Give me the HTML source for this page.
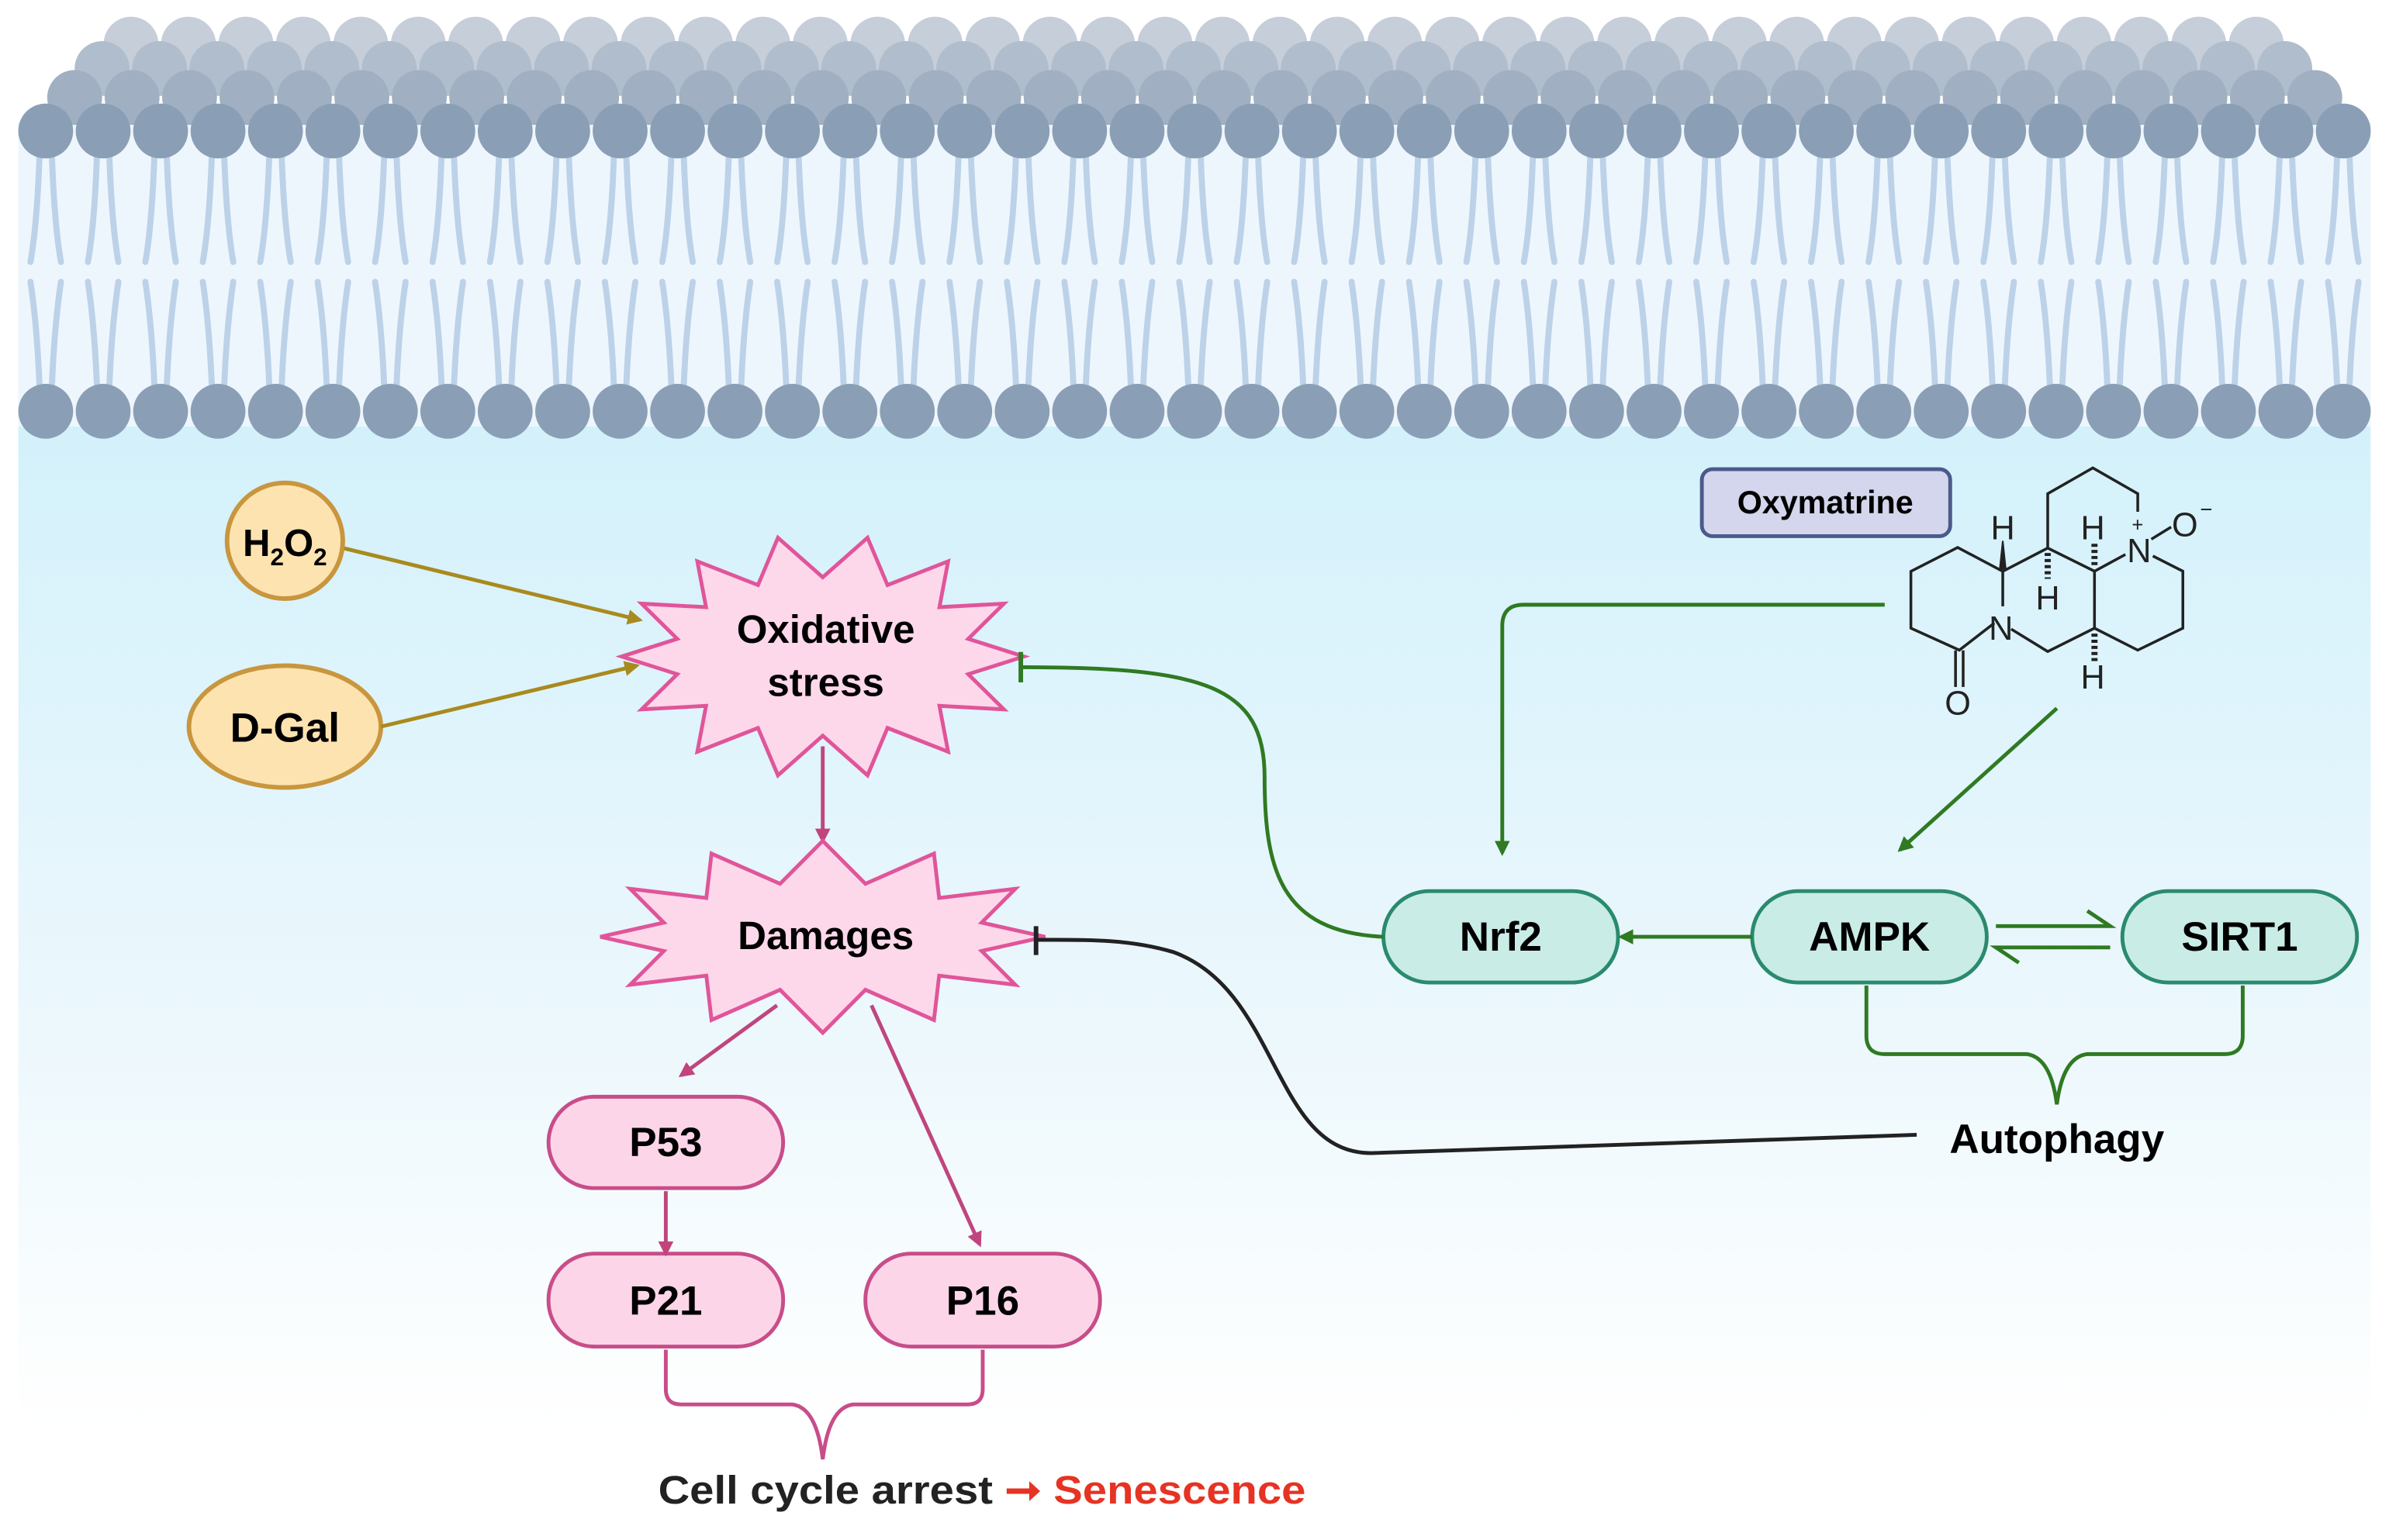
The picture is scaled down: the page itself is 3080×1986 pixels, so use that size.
<!DOCTYPE html>
<html><head><meta charset="utf-8">
<style>
html,body{margin:0;padding:0;background:#fff;}
svg{display:block;}
text{font-family:"Liberation Sans",sans-serif;font-weight:bold;}
</style></head>
<body>
<svg id="s" width="3080" height="1986" viewBox="0 0 1568 1011" preserveAspectRatio="none" xmlns="http://www.w3.org/2000/svg">
<defs>
<linearGradient id="bg" x1="0" y1="0" x2="0" y2="1">
<stop offset="0" stop-color="#d3f1fb"/>
<stop offset="0.55" stop-color="#eaf7fc"/>
<stop offset="1" stop-color="#ffffff"/>
</linearGradient>
<marker id="ag" markerWidth="10" markerHeight="10" refX="8" refY="5" orient="auto" markerUnits="userSpaceOnUse"><path d="M0,0 L10,5 L0,10 z" fill="#2f7a22"/></marker>
<marker id="ay" markerWidth="10" markerHeight="10" refX="8" refY="5" orient="auto" markerUnits="userSpaceOnUse"><path d="M0,0 L10,5 L0,10 z" fill="#a88a1e"/></marker>
<marker id="ap" markerWidth="10" markerHeight="10" refX="8" refY="5" orient="auto" markerUnits="userSpaceOnUse"><path d="M0,0 L10,5 L0,10 z" fill="#c0457e"/></marker>
</defs>
<rect x="12" y="80" width="1544" height="200" fill="#eef6fd"/>
<rect x="12" y="280" width="1544" height="660" fill="url(#bg)"/>
<g id="mem"></g>

<ellipse cx="187" cy="355" rx="38" ry="38" fill="#fde3b0" stroke="#c8963e" stroke-width="3"/>
<text x="187" y="365" font-size="25" text-anchor="middle">H<tspan font-size="16" dy="6">2</tspan><tspan dy="-6">O</tspan><tspan font-size="16" dy="6">2</tspan></text>
<ellipse cx="187" cy="477" rx="63" ry="40" fill="#fde3b0" stroke="#c8963e" stroke-width="3"/>
<text x="187" y="487" font-size="27" text-anchor="middle">D-Gal</text>
<line x1="226" y1="360" x2="420" y2="407" stroke="#a88a1e" stroke-width="2.5" marker-end="url(#ay)"/>
<line x1="250" y1="477" x2="418" y2="437" stroke="#a88a1e" stroke-width="2.5" marker-end="url(#ay)"/>

<polygon id="st1" fill="#fdd8ea" stroke="#e0559a" stroke-width="2.5"/>
<text x="542" y="422" font-size="26" text-anchor="middle">Oxidative</text>
<text x="542" y="457" font-size="26" text-anchor="middle">stress</text>
<line x1="540" y1="490" x2="540" y2="552" stroke="#c0457e" stroke-width="2.5" marker-end="url(#ap)"/>
<polygon id="st2" fill="#fdd8ea" stroke="#e0559a" stroke-width="2.5"/>
<text x="542" y="623" font-size="26" text-anchor="middle">Damages</text>
<line x1="510" y1="660" x2="447" y2="706" stroke="#c0457e" stroke-width="2.5" marker-end="url(#ap)"/>
<line x1="572" y1="660" x2="643" y2="817" stroke="#c0457e" stroke-width="2.5" marker-end="url(#ap)"/>

<g fill="#fcd6e8" stroke="#c84d8a" stroke-width="2.5">
<rect x="360" y="720" width="154" height="60" rx="30"/>
<rect x="360" y="823" width="154" height="61" rx="30"/>
<rect x="568" y="823" width="154" height="61" rx="30"/>
</g>
<text x="437" y="759" font-size="27" text-anchor="middle">P53</text>
<text x="437" y="863" font-size="27" text-anchor="middle">P21</text>
<text x="645" y="863" font-size="27" text-anchor="middle">P16</text>
<line x1="437" y1="782" x2="437" y2="823" stroke="#c0457e" stroke-width="2.5" marker-end="url(#ap)"/>
<path d="M437,886 L437,912 Q437,922 447,922 L520,922 Q536,924 540,958 Q544,924 560,922 L635,922 Q645,922 645,912 L645,886" fill="none" stroke="#c84d8a" stroke-width="2.5"/>
<text x="432" y="987" font-size="26" fill="#222" textLength="425" lengthAdjust="spacingAndGlyphs">Cell cycle arrest <tspan fill="#e63323">➞ Senescence</tspan></text>

<g fill="#c9ece6" stroke="#2a8a6e" stroke-width="2.5">
<rect x="908" y="585" width="154" height="60" rx="30"/>
<rect x="1150" y="585" width="154" height="60" rx="30"/>
<rect x="1393" y="585" width="154" height="60" rx="30"/>
</g>
<text x="985" y="624" font-size="27" text-anchor="middle">Nrf2</text>
<text x="1227" y="624" font-size="27" text-anchor="middle">AMPK</text>
<text x="1470" y="624" font-size="27" text-anchor="middle">SIRT1</text>
<line x1="1150" y1="615" x2="1064" y2="615" stroke="#2f7a22" stroke-width="2.5" marker-end="url(#ag)"/>
<path d="M1310,608 L1385,608 L1370,598" fill="none" stroke="#2f7a22" stroke-width="2.5"/>
<path d="M1385,622 L1310,622 L1325,632" fill="none" stroke="#2f7a22" stroke-width="2.5"/>
<path d="M1225,647 L1225,680 Q1225,692 1237,692 L1330,692 Q1346,694 1350,725 Q1354,694 1370,692 L1460,692 Q1472,692 1472,680 L1472,647" fill="none" stroke="#2f7a22" stroke-width="2.5"/>
<text x="1350" y="757" font-size="27" text-anchor="middle">Autophagy</text>
<path d="M1258,745 L900,757 C835,757 840,650 770,625 C740,616 710,617 680,617" fill="none" stroke="#222" stroke-width="2.5"/>
<line x1="680" y1="608" x2="680" y2="627" stroke="#222" stroke-width="3"/>
<path d="M908,615 C840,612 830,570 830,510 C830,450 790,438 670,438" fill="none" stroke="#2f7a22" stroke-width="2.5"/>
<line x1="670" y1="428" x2="670" y2="448" stroke="#2f7a22" stroke-width="3"/>
<path d="M1237,397 L1000,397 Q986,397 986,411 L986,560" fill="none" stroke="#2f7a22" stroke-width="2.5" marker-end="url(#ag)"/>
<line x1="1350" y1="465" x2="1247" y2="558" stroke="#2f7a22" stroke-width="2.5" marker-end="url(#ag)"/>

<rect x="1117" y="308" width="163" height="44" rx="7" fill="#d3d6ec" stroke="#4a5a8a" stroke-width="2.5"/>
<text x="1198" y="337" font-size="21" text-anchor="middle">Oxymatrine</text>

<g fill="none" stroke="#222" stroke-width="1.8">
<polyline points="1309,409 1286,426.8 1254.2,412.4 1254.2,375.1 1284.9,359.4 1314.5,375.1 1314.5,398"/>
<line x1="1283.5" y1="427" x2="1283.5" y2="451"/><line x1="1288.5" y1="427" x2="1288.5" y2="451"/>
<polyline points="1314.5,375.1 1344,359.8 1374.7,375 1374.7,412.4 1344,427.7 1320,413"/>
<polyline points="1344,359.8 1344,324.1 1373.6,307.2 1403.1,324.1 1403.1,336"/>
<line x1="1374.7" y1="375" x2="1395" y2="364"/>
<polyline points="1413,365 1432.7,375 1432.7,412.4 1403.1,426.8 1374.7,412.4"/>
<line x1="1412" y1="354" x2="1425" y2="346"/>
<line x1="1344" y1="363" x2="1344" y2="380" stroke-dasharray="2 2" stroke-width="4"/>
<line x1="1374.7" y1="371" x2="1374.7" y2="355" stroke-dasharray="2 2" stroke-width="4"/>
<line x1="1374.7" y1="416" x2="1374.7" y2="434" stroke-dasharray="2 2" stroke-width="4"/>
</g>
<polygon points="1312,374 1317,374 1315,355 1314,355" fill="#222"/>
<g font-size="22" fill="#222" text-anchor="middle">
<text x="1314.5" y="354" style="font-weight:normal">H</text>
<text x="1344" y="400" style="font-weight:normal">H</text>
<text x="1373.6" y="354" style="font-weight:normal">H</text>
<text x="1373.6" y="452" style="font-weight:normal">H</text>
<text x="1313.3" y="420" style="font-weight:normal">N</text>
<text x="1404" y="369" style="font-weight:normal">N</text>
<text x="1285" y="469" style="font-weight:normal">O</text>
<text x="1434" y="352" style="font-weight:normal">O</text>
<text x="1448" y="339" font-size="14" style="font-weight:normal">−</text>
<text x="1403" y="349" font-size="13" style="font-weight:normal">+</text>
</g>
</svg>
<script>
var NS="http://www.w3.org/2000/svg",m=document.getElementById("mem");
function c(x,y,r,f){var e=document.createElementNS(NS,"circle");e.setAttribute("cx",x);e.setAttribute("cy",y);e.setAttribute("r",r);e.setAttribute("fill",f);m.appendChild(e);}
function p(d){var e=document.createElementNS(NS,"path");e.setAttribute("d",d);e.setAttribute("stroke","#bcd2e8");e.setAttribute("stroke-width","4");e.setAttribute("fill","none");e.setAttribute("stroke-linecap","round");m.appendChild(e);}
var rows=[[29,86,1500,"#c5ced9"],[45,67,1520,"#b0bdcc"],[64,49,1530,"#a0b0c2"]];
rows.forEach(function(r){for(var x=r[1];x<=r[2];x+=37.7)c(x,r[0],18,r[3]);});
for(var i=0;i<41;i++){var x=30+i*37.7;
p("M"+(x-4)+",100 C"+(x-5)+",130 "+(x-7)+",155 "+(x-10)+",172");
p("M"+(x+4)+",100 C"+(x+5)+",130 "+(x+7)+",155 "+(x+10)+",172");
p("M"+(x-10)+",185 C"+(x-7)+",205 "+(x-5)+",230 "+(x-4)+",255");
p("M"+(x+10)+",185 C"+(x+7)+",205 "+(x+5)+",230 "+(x+4)+",255");
c(x,86,18,"#8a9fb5");c(x,270,18,"#8a9fb5");}
function star(id,cx,cy,rx,ry,irx,iry,n,off){var pts=[];for(var k=0;k<2*n;k++){var a=Math.PI*k/n+off;var o=k%2==0;pts.push((cx+Math.cos(a)*(o?rx:irx)).toFixed(1)+","+(cy+Math.sin(a)*(o?ry:iry)).toFixed(1));}document.getElementById(id).setAttribute("points",pts.join(" "));}
star("st1",540,431,132,80,98,52,14,0);
star("st2",540,615,146,63,108,36,12,0);
</script>
</body></html>
